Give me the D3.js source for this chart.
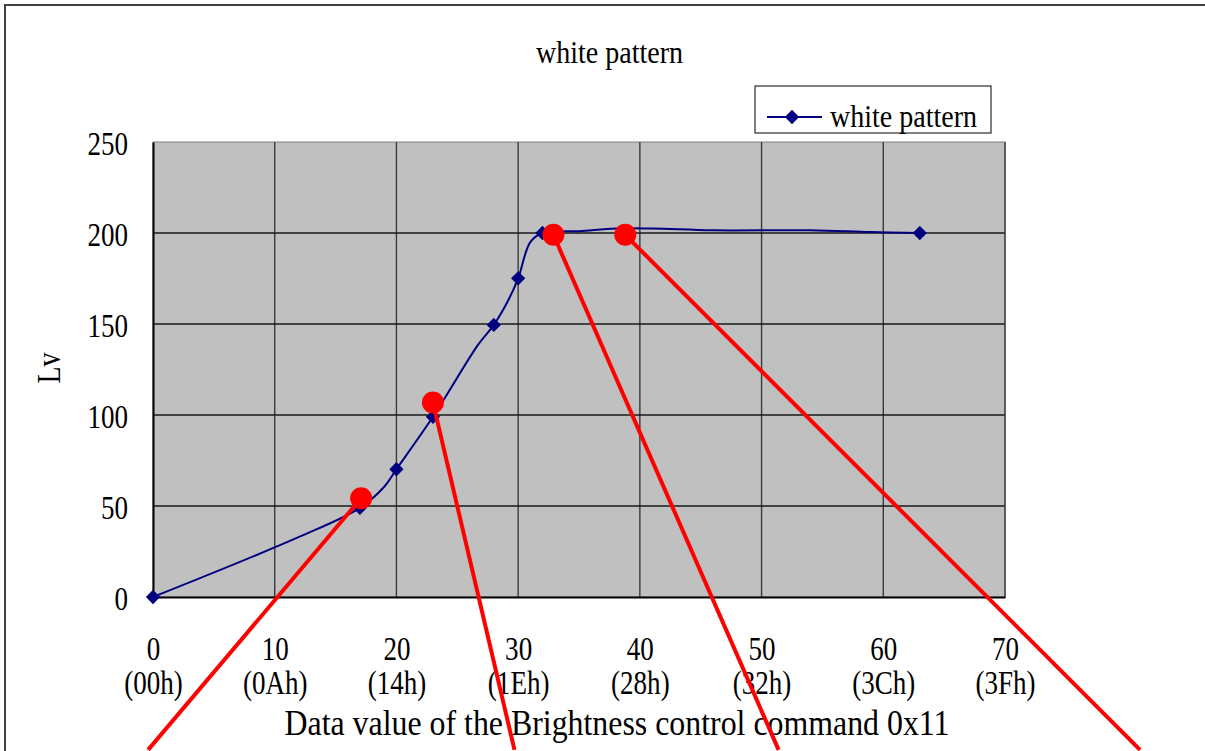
<!DOCTYPE html>
<html>
<head>
<meta charset="utf-8">
<script src="https://cdn.jsdelivr.net/npm/d3@7"></script>
<style>
  html, body { margin: 0; padding: 0; background: #fff; }
  svg { display: block; }
  text { font-family: "Liberation Serif", "Times New Roman", serif; fill: #000; }
</style>
</head>
<body>
<svg id="chart" width="1205" height="751"></svg>
<script>
// ---- data ----
const chartTitle = "white pattern";
const seriesName = "white pattern";
const xTitle = "Data value of the Brightness control command 0x11";
const yTitle = "Lv";
const xTicks = [0, 10, 20, 30, 40, 50, 60, 70];
const hexLabels = ["(00h)", "(0Ah)", "(14h)", "(1Eh)", "(28h)", "(32h)", "(3Ch)", "(3Fh)"];
const yTicks = [0, 50, 100, 150, 200, 250];
// measured curve (brightness code, Lv)
const lineCodes = [0, 12, 17, 19, 20, 23, 26.7, 28, 29.2, 30, 31, 32, 35, 38, 41, 46, 54, 59, 63];
const lineLv    = [0, 33, 49, 60.6, 70.2, 99, 138.5, 149.5, 163.2, 175.1, 195, 200, 201, 202.5, 202.5, 201.5, 201.5, 200.5, 200];
// points shown with diamond markers
const markerCodes = [0, 17, 20, 23, 28, 30, 32, 63];
// red call-out dots and where their leader lines run off the page
const calloutCodes = [17.1, 23.0, 32.9, 38.8];
const calloutLv    = [54.3, 106.9, 199.0, 199.0];
const leaderCodes  = [-0.4, 29.7, 51.4, 81.1];
const leaderLv     = [-84, -84, -84, -84];

// ---- layout ----
const svg = d3.select("#chart");
const L = 153, R = 1005, T = 142, B = 597;
const x = d3.scaleLinear().domain([0, 70]).range([L, R]);
const y = d3.scaleLinear().domain([0, 250]).range([B, T]);
const navy = "#000080";
const SX = 0.82;
const FS = 33;

// outer frame
svg.append("path").attr("d", "M5,751V5H1205").attr("fill", "none")
  .attr("stroke", "#404040").attr("stroke-width", 2);

// title
svg.append("text").attr("x", 609.5).attr("y", 63).attr("text-anchor", "middle")
  .attr("font-size", 31).attr("textLength", 147).attr("lengthAdjust", "spacingAndGlyphs")
  .text(chartTitle);

// plot background
svg.append("rect").attr("x", L).attr("y", T).attr("width", R - L).attr("height", B - T)
  .attr("fill", "#C0C0C0").attr("stroke", "#808080").attr("stroke-width", 1);

// gridlines
const grid = svg.append("g");
grid.selectAll("line.v").data(xTicks.filter(d => d > 0 && d < 70)).join("line")
  .attr("x1", d => x(d)).attr("x2", d => x(d)).attr("y1", T).attr("y2", B)
  .attr("stroke", "#3a3a3a").attr("stroke-width", 1.4);
grid.selectAll("line.h").data(yTicks.filter(d => d > 0 && d < 250)).join("line")
  .attr("x1", L).attr("x2", R).attr("y1", d => y(d)).attr("y2", d => y(d))
  .attr("stroke", "#1a1a1a").attr("stroke-width", 1.3);
svg.append("line").attr("x1", R).attr("x2", R).attr("y1", T).attr("y2", B)
  .attr("stroke", "#3a3a3a").attr("stroke-width", 1.4);

// y axis
const gy = svg.append("g").attr("transform", `translate(${L},0)`)
  .call(d3.axisLeft(y).tickValues(yTicks).tickSize(0).tickPadding(0));
gy.select(".domain").attr("stroke", "#000").attr("stroke-width", 2);
gy.selectAll("text").attr("font-size", FS).attr("font-family", "Liberation Serif")
  .attr("x", -25 / SX).attr("dy", "0.38em").attr("transform", `scale(${SX},1)`);

// x axis (numbers)
const gx = svg.append("g").attr("transform", `translate(0,${B})`)
  .call(d3.axisBottom(x).tickValues(xTicks).tickSize(0).tickPadding(0));
gx.select(".domain").attr("stroke", "#000").attr("stroke-width", 2);
gx.selectAll("text").attr("font-size", FS).attr("font-family", "Liberation Serif")
  .attr("y", 63).attr("dy", 0).attr("transform", `scale(${SX},1)`)
  .attr("x", 0);

// x axis (hex codes)
const gh = svg.append("g").attr("transform", `translate(0,${B})`)
  .call(d3.axisBottom(x).tickValues(xTicks).tickSize(0).tickPadding(0)
    .tickFormat((d, i) => hexLabels[i]));
gh.select(".domain").remove();
gh.selectAll("text").attr("font-size", FS).attr("font-family", "Liberation Serif")
  .attr("y", 97).attr("dy", 0).attr("transform", `scale(${SX},1)`);

// axis titles
svg.append("text").attr("x", 617).attr("y", 735).attr("text-anchor", "middle")
  .attr("font-size", 35).attr("textLength", 665).attr("lengthAdjust", "spacingAndGlyphs")
  .text(xTitle);
svg.append("text").attr("transform", "translate(60,368) rotate(-90)")
  .attr("text-anchor", "middle").attr("font-size", 33)
  .attr("textLength", 31).attr("lengthAdjust", "spacingAndGlyphs")
  .text(yTitle);

// series line
const pts = lineCodes.map((c, i) => [c, lineLv[i]]);
const lineGen = d3.line().x(d => x(d[0])).y(d => y(d[1])).curve(d3.curveCatmullRom.alpha(0.5));
svg.append("path").datum(pts).attr("d", lineGen).attr("fill", "none")
  .attr("stroke", navy).attr("stroke-width", 2);

// markers
const diamond = d3.symbol().type(d3.symbolDiamond2).size(130);
const markerPts = pts.filter(p => markerCodes.includes(p[0]));
svg.selectAll("path.mk").data(markerPts).join("path").attr("class", "mk")
  .attr("d", diamond).attr("transform", d => `translate(${x(d[0])},${y(d[1])})`)
  .attr("fill", navy);

// legend
svg.append("rect").attr("x", 755).attr("y", 86).attr("width", 236).attr("height", 47)
  .attr("fill", "#fff").attr("stroke", "#000").attr("stroke-width", 1);
svg.append("line").attr("x1", 767).attr("x2", 822).attr("y1", 117).attr("y2", 117)
  .attr("stroke", navy).attr("stroke-width", 2);
svg.append("path").attr("d", diamond).attr("transform", "translate(792,117)").attr("fill", navy);
svg.append("text").attr("x", 830).attr("y", 127).attr("font-size", 31)
  .attr("textLength", 147).attr("lengthAdjust", "spacingAndGlyphs").text(seriesName);

// red call-outs
const calls = calloutCodes.map((c, i) => ({ c, v: calloutLv[i], ec: leaderCodes[i], ev: leaderLv[i] }));
svg.selectAll("line.lead").data(calls).join("line").attr("class", "lead")
  .attr("x1", d => x(d.c)).attr("y1", d => y(d.v))
  .attr("x2", d => x(d.ec)).attr("y2", d => y(d.ev))
  .attr("stroke", "#FF0000").attr("stroke-width", 4);
svg.selectAll("circle.dot").data(calls).join("circle").attr("class", "dot")
  .attr("cx", d => x(d.c)).attr("cy", d => y(d.v)).attr("r", 11)
  .attr("fill", "#FF0000");
</script>
</body>
</html>
